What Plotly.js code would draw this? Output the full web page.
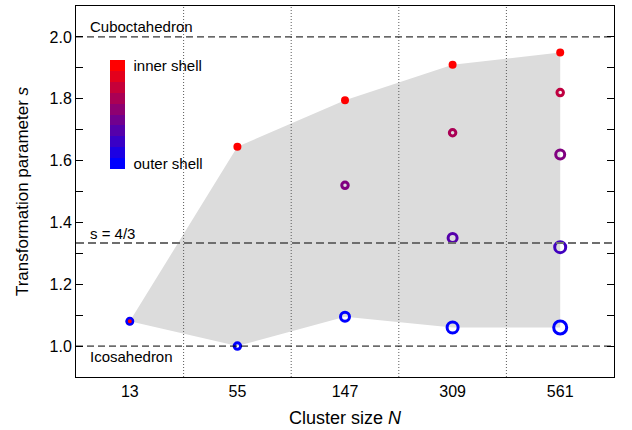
<!DOCTYPE html>
<html><head><meta charset="utf-8">
<script src="https://cdn.plot.ly/plotly-3.0.1.min.js"></script>
<style>html,body{margin:0;padding:0;background:#fff;}#chart{width:632px;height:430px;}</style>
</head><body><div id="chart"></div>
<script>
// ---- data ----
const clusterSizes = ['13', '55', '147', '309', '561'];
const innerShellS = [1.08, 1.645, 1.795, 1.91, 1.95];
const ringCluster = ['13', '55', '147', '147', '309', '309', '309', '561', '561', '561', '561'];
const ringS       = [1.08, 1.00, 1.52, 1.095, 1.69, 1.35, 1.06, 1.82, 1.62, 1.32, 1.06];
const ringShell   = [1, 2, 2, 3, 2, 3, 4, 2, 3, 4, 5];
const ringDepth   = [0, 0, 0.5, 0, 0.667, 0.333, 0, 0.75, 0.5, 0.25, 0];
const refLevels = [2.0, 4 / 3, 1.0];
const refLabels = ['Cuboctahedron', 's = 4/3', 'Icosahedron'];
const yTickVals = [1.0, 1.2, 1.4, 1.6, 1.8, 2.0];
const legendLabels = ['outer shell', 'inner shell'];

// ---- derived ----
const outerShellS = clusterSizes.map(c => {
  let v = null;
  ringCluster.forEach((rc, i) => { if (rc === c && ringDepth[i] === 0) v = ringS[i]; });
  return v;
});
const ringSizeByShell = {1: 6.5, 2: 6.5, 3: 9, 4: 11, 5: 13};
const ringWidthByShell = {1: 2.5, 2: 3, 3: 3, 4: 3, 5: 3};
const contScale = [[0, 'rgb(0,0,255)'], [1, 'rgb(255,0,0)']];
const nSteps = 10;
const discScale = [];
for (let i = 0; i < nSteps; i++) {
  const t = i / (nSteps - 1);
  const col = 'rgb(' + Math.round(255 * t) + ',0,' + Math.round(255 * (1 - t)) + ')';
  discScale.push([i / nSteps, col]);
  discScale.push([(i + 1) / nSteps, col]);
}

const traces = [
  {
    type: 'scatter', mode: 'lines',
    x: clusterSizes.concat(clusterSizes.slice().reverse()),
    y: innerShellS.concat(outerShellS.slice().reverse()),
    fill: 'toself', fillcolor: 'rgb(220,220,220)',
    line: {width: 0}, hoverinfo: 'skip', showlegend: false
  },
  {
    type: 'scatter', mode: 'markers',
    x: clusterSizes, y: innerShellS,
    marker: {symbol: 'circle', size: 8, color: 'rgb(255,0,0)', opacity: 1},
    showlegend: false
  },
  {
    type: 'scatter', mode: 'markers',
    x: ringCluster, y: ringS,
    marker: {
      symbol: 'circle-open', opacity: 1,
      size: ringShell.map(s => ringSizeByShell[s]),
      color: ringDepth, colorscale: contScale, cmin: 0, cmax: 1,
      line: {width: ringShell.map(s => ringWidthByShell[s])}, showscale: false
    },
    showlegend: false
  },
  {
    type: 'scatter', mode: 'markers',
    x: [clusterSizes[0]], y: [1.5],
    marker: {
      size: 1, opacity: 0, color: [0.5], colorscale: discScale, cmin: 0, cmax: 1,
      showscale: true,
      colorbar: {
        x: 34 / 538, xanchor: 'left', xref: 'paper', xpad: 0, ypad: 0,
        y: (377 - 114.5) / 371, yanchor: 'middle',
        len: 109, lenmode: 'pixels', thickness: 15, thicknessmode: 'pixels',
        outlinewidth: 0, ticks: 'outside', ticklen: 6, tickcolor: 'rgba(0,0,0,0)',
        tickvals: [0.05, 0.95], ticktext: legendLabels,
        tickfont: {size: 15, color: '#000'}
      }
    },
    hoverinfo: 'skip', showlegend: false
  }
];

const shapes = [];
for (let i = 0; i < clusterSizes.length - 1; i++) {
  shapes.push({type: 'line', xref: 'x', yref: 'paper', x0: i + 0.5, x1: i + 0.5, y0: 0, y1: 1,
    line: {color: 'rgb(90,90,90)', width: 1, dash: '1px,2px'}, layer: 'above'});
}
refLevels.forEach((lv, i) => {
  const mid = i === 1;
  shapes.push({type: 'line', xref: 'paper', yref: 'y', x0: 0, x1: 1, y0: lv, y1: lv,
    line: {color: mid ? 'rgb(110,110,110)' : 'rgb(0,0,0)', width: mid ? 2 : 1, dash: mid ? '8px,4px' : '7px,4px'},
    layer: 'above'});
});

const annotations = refLevels.map((lv, i) => ({
  xref: 'paper', yref: 'y', x: 12 / 538, y: lv, xanchor: 'left',
  yanchor: i === 2 ? 'top' : 'bottom', yshift: i === 1 ? -1 : 0,
  text: refLabels[i], showarrow: false, font: {size: 15, color: '#000'}
}));

const layout = {
  width: 632, height: 430,
  margin: {l: 76, r: 18, t: 6, b: 53},
  paper_bgcolor: '#fff', plot_bgcolor: '#fff',
  font: {family: 'Liberation Sans, Arial, sans-serif', color: '#000'},
  showlegend: false,
  xaxis: {
    type: 'category', categoryorder: 'array', categoryarray: clusterSizes,
    range: [-0.5, 4.5], showgrid: false, zeroline: false,
    showline: true, linecolor: '#000', linewidth: 1, mirror: true,
    ticks: '', tickfont: {size: 16},
    title: {text: 'Cluster size <i>N</i>', font: {size: 18}, standoff: 12}
  },
  yaxis: {
    range: [0.9, 2.1], showgrid: false, zeroline: false,
    showline: true, linecolor: '#000', linewidth: 1, mirror: 'ticks',
    ticks: 'inside', ticklen: 7, tickcolor: '#000',
    tickvals: yTickVals, tickformat: '.1f', tickfont: {size: 16},
    minor: {dtick: 0.1, tick0: 0, ticks: 'inside', ticklen: 7, tickcolor: '#000'},
    title: {text: 'Transformation parameter <i>s</i>', font: {size: 17}, standoff: 16}
  },
  shapes: shapes,
  annotations: annotations
};

Plotly.newPlot('chart', traces, layout, {displayModeBar: false, staticPlot: true});
</script>
</body></html>
